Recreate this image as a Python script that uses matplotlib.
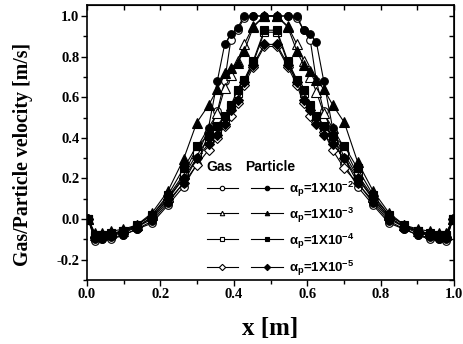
import matplotlib
matplotlib.use("Agg")
import matplotlib.pyplot as plt
from matplotlib.lines import Line2D

plt.rcParams["mathtext.fontset"] = "custom"
plt.rcParams["mathtext.rm"] = "Liberation Sans:bold"
plt.rcParams["mathtext.it"] = "Liberation Sans:bold"
plt.rcParams["mathtext.bf"] = "Liberation Sans:bold"

# grid positions along the channel
x = [0.003, 0.022, 0.042, 0.066, 0.097, 0.135, 0.177, 0.221, 0.263, 0.299,
     0.331, 0.355, 0.375, 0.392, 0.41, 0.428, 0.453, 0.483,
     0.517, 0.547, 0.572, 0.59, 0.608, 0.625, 0.645, 0.669, 0.701, 0.737,
     0.779, 0.823, 0.865, 0.903, 0.934, 0.958, 0.978, 0.997]

# particle velocity, alpha_p = 1e-2 .. 1e-5
p_1e2 = [0.0, -0.10, -0.10, -0.09, -0.08, -0.05, -0.01, 0.08, 0.18, 0.30,
         0.45, 0.68, 0.86, 0.91, 0.94, 1.0, 1.0, 1.0,
         1.0, 1.0, 1.0, 0.93, 0.91, 0.87, 0.68, 0.45, 0.30, 0.18,
         0.08, -0.01, -0.05, -0.08, -0.09, -0.10, -0.10, 0.0]
p_1e3 = [0.0, -0.07, -0.07, -0.06, -0.05, -0.03, 0.03, 0.14, 0.295, 0.475,
         0.56, 0.64, 0.72, 0.745, 0.77, 0.826, 0.945, 1.0,
         1.0, 0.945, 0.826, 0.76, 0.727, 0.686, 0.64, 0.563, 0.476, 0.283,
         0.14, 0.03, -0.03, -0.05, -0.06, -0.07, -0.07, 0.0]
p_1e4 = [0.0, -0.08, -0.08, -0.07, -0.06, -0.03, 0.02, 0.12, 0.25, 0.36,
         0.41, 0.46, 0.51, 0.56, 0.635, 0.685, 0.78, 0.93,
         0.93, 0.78, 0.685, 0.635, 0.56, 0.51, 0.46, 0.41, 0.36, 0.25,
         0.12, 0.02, -0.03, -0.06, -0.07, -0.08, -0.08, 0.0]
p_1e5 = [0.0, -0.09, -0.09, -0.08, -0.06, -0.04, 0.01, 0.10, 0.20, 0.30,
         0.37, 0.414, 0.47, 0.537, 0.586, 0.676, 0.76, 0.86,
         0.86, 0.76, 0.676, 0.586, 0.537, 0.47, 0.414, 0.37, 0.30, 0.20,
         0.10, 0.01, -0.04, -0.06, -0.08, -0.09, -0.09, 0.0]

# gas velocity
g_1e2 = [0.0, -0.11, -0.10, -0.10, -0.08, -0.05, -0.02, 0.07, 0.16, 0.27,
         0.42, 0.53, 0.68, 0.884, 0.93, 0.99, 1.0, 1.0,
         1.0, 1.0, 0.99, 0.93, 0.884, 0.68, 0.53, 0.42, 0.27, 0.16,
         0.07, -0.02, -0.05, -0.08, -0.10, -0.10, -0.11, 0.0]
g_1e3 = [0.0, -0.08, -0.08, -0.07, -0.06, -0.03, 0.02, 0.11, 0.22, 0.35,
         0.45, 0.52, 0.643, 0.71, 0.78, 0.86, 0.95, 1.0,
         1.0, 0.95, 0.86, 0.78, 0.70, 0.627, 0.52, 0.45, 0.35, 0.22,
         0.11, 0.02, -0.03, -0.06, -0.07, -0.08, -0.08, 0.0]
g_1e4 = [0.0, -0.09, -0.08, -0.08, -0.06, -0.04, 0.01, 0.10, 0.21, 0.32,
         0.39, 0.44, 0.50, 0.55, 0.62, 0.68, 0.77, 0.92,
         0.92, 0.77, 0.68, 0.62, 0.55, 0.50, 0.44, 0.39, 0.32, 0.21,
         0.10, 0.01, -0.04, -0.06, -0.08, -0.08, -0.09, 0.0]
g_1e5 = [0.0, -0.09, -0.09, -0.08, -0.07, -0.04, 0.00, 0.09, 0.176, 0.266,
         0.34, 0.40, 0.46, 0.51, 0.57, 0.66, 0.75, 0.85,
         0.85, 0.75, 0.66, 0.57, 0.51, 0.476, 0.43, 0.34, 0.25, 0.176,
         0.09, 0.00, -0.04, -0.07, -0.08, -0.09, -0.09, 0.0]

labels = [r"$\alpha_p$=1X10$^{-2}$", r"$\alpha_p$=1X10$^{-3}$",
          r"$\alpha_p$=1X10$^{-4}$", r"$\alpha_p$=1X10$^{-5}$"]
markers = ["o", "^", "s", "D"]
msizes = [5.5, 6.5, 5.5, 5.0]

gas = [g_1e2, g_1e3, g_1e4, g_1e5]
part = [p_1e2, p_1e3, p_1e4, p_1e5]

fig = plt.figure(figsize=(4.63, 3.44), dpi=100)
ax = fig.add_axes([0.188, 0.186, 0.7926, 0.7994])

for g, m, ms in zip(gas, markers, msizes):
    ax.plot(x, g, "-", color="black", lw=0.8, marker=m, ms=ms,
            mfc="white", mec="black", mew=0.8)
for p, m, ms in zip(part, markers, msizes):
    ax.plot(x, p, "-", color="black", lw=0.8, marker=m, ms=ms,
            mfc="black", mec="black", mew=0.8)

ax.set_xlim(0.0, 1.0)
ax.set_ylim(-0.3, 1.054)
ax.set_xticks([0.0, 0.2, 0.4, 0.6, 0.8, 1.0])
ax.set_xticks([0.1, 0.3, 0.5, 0.7, 0.9], minor=True)
ax.set_yticks([-0.2, 0.0, 0.2, 0.4, 0.6, 0.8, 1.0])
ax.set_yticks([-0.3, -0.1, 0.1, 0.3, 0.5, 0.7, 0.9], minor=True)
ax.set_xticklabels(["0.0", "0.2", "0.4", "0.6", "0.8", "1.0"])
ax.set_yticklabels(["-0.2", "0.0", "0.2", "0.4", "0.6", "0.8", "1.0"])

for lab in ax.get_xticklabels() + ax.get_yticklabels():
    lab.set_fontfamily("Liberation Serif")
    lab.set_fontweight("bold")
    lab.set_fontsize(10.5)

ax.tick_params(which="both", direction="out", width=1.0, top=False, right=False)
ax.tick_params(which="major", length=4)
ax.tick_params(which="minor", length=3)
ax.tick_params(axis="x", pad=2)
ax.tick_params(axis="y", pad=1.5)
for s in ax.spines.values():
    s.set_linewidth(1.2)

# mirrored inward ticks on top and right
axt = ax.secondary_xaxis("top")
axt.set_xticks([0.0, 0.1, 0.2, 0.3, 0.4, 0.5, 0.6, 0.7, 0.8, 0.9, 1.0])
axt.tick_params(direction="in", length=3.5, width=1.0, labeltop=False)
axr = ax.secondary_yaxis("right")
axr.set_yticks([-0.3, -0.2, -0.1, 0.0, 0.1, 0.2, 0.3, 0.4, 0.5, 0.6, 0.7, 0.8, 0.9, 1.0])
axr.tick_params(direction="in", length=3.5, width=1.0, labelright=False)

ax.set_xlabel("x [m]", fontfamily="Liberation Serif", fontweight="bold",
              fontsize=18)
ax.xaxis.set_label_coords(0.5, -0.135)
ax.set_ylabel("Gas/Particle velocity [m/s]", fontfamily="Liberation Serif",
              fontweight="bold", fontsize=14.3, va="center")
ax.yaxis.set_label_coords(-0.174, 0.458)

# legend (Origin style: gas column, particle column, label)
font_leg = dict(fontfamily="Liberation Sans", fontweight="bold")
ax.text(0.326, 0.412, "Gas", transform=ax.transAxes, va="center",
        ha="left", fontsize=10, **font_leg)
ax.text(0.43, 0.412, "Particle", transform=ax.transAxes, va="center",
        ha="left", fontsize=10, **font_leg)
rows = [0.336, 0.243, 0.148, 0.048]
for fy, m, lab in zip(rows, markers, labels):
    ax.add_line(Line2D([0.326, 0.412], [fy, fy], transform=ax.transAxes,
                       color="black", lw=0.8))
    ax.add_line(Line2D([0.369], [fy], transform=ax.transAxes, marker=m,
                       ms=3.2, mfc="white", mec="black", mew=0.8, ls="none"))
    ax.add_line(Line2D([0.447, 0.535], [fy, fy], transform=ax.transAxes,
                       color="black", lw=0.8))
    ax.add_line(Line2D([0.491], [fy], transform=ax.transAxes, marker=m,
                       ms=3.2, mfc="black", mec="black", mew=0.8, ls="none"))
    ax.text(0.549, fy - 0.019, lab, transform=ax.transAxes, va="baseline",
            ha="left", fontsize=9.5, zorder=5, **font_leg)

fig.savefig("out.png", dpi=100)
